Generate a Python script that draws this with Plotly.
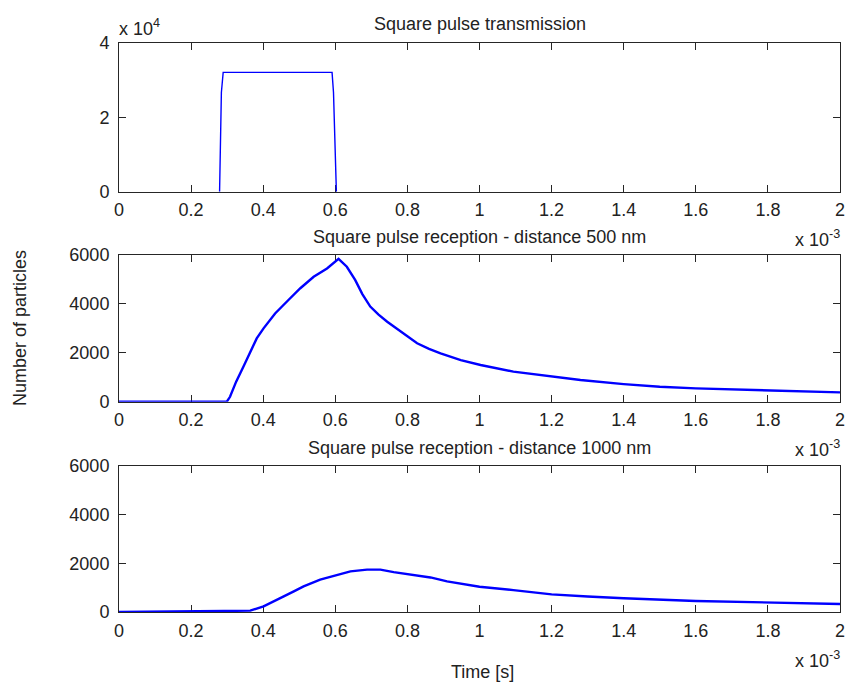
import plotly.graph_objects as go

# ---------------- data (time in units of 1e-3 s) ----------------
t_tx = [0.279, 0.280, 0.282, 0.284, 0.289, 0.591, 0.595, 0.598, 0.601, 0.603]
n_tx = [0, 5400, 16100, 26700, 32100, 32100, 26700, 16100, 5400, 0]

t_500 = [0, 0.299, 0.308, 0.325, 0.345, 0.365, 0.382, 0.401, 0.433, 0.47, 0.503, 0.54,
         0.577, 0.609, 0.620, 0.632, 0.655, 0.675, 0.697, 0.72, 0.744, 0.79, 0.827, 0.86,
         0.892, 0.948, 1.003, 1.094, 1.2, 1.28, 1.4, 1.5, 1.6, 1.74, 1.8, 1.93, 2.0]
n_500 = [0, 0, 200, 820, 1430, 2050, 2590, 3000, 3610, 4160, 4640, 5110,
         5450, 5840, 5700, 5520, 4980, 4400, 3890, 3560, 3270, 2800, 2390, 2160,
         1980, 1700, 1500, 1230, 1020, 885, 720, 613, 545, 477, 450, 410, 380]

t_1000 = [0, 0.313, 0.364, 0.401, 0.43, 0.457, 0.485, 0.512, 0.558, 0.605, 0.642, 0.688,
          0.725, 0.762, 0.808, 0.864, 0.91, 0.966, 1.0, 1.094, 1.2, 1.3, 1.4, 1.6, 1.8, 2.0]
n_1000 = [0, 25, 55, 230, 430, 640, 850, 1050, 1330, 1530, 1670, 1740,
          1740, 1640, 1530, 1420, 1260, 1120, 1040, 900, 726, 640, 562, 452, 397, 330]

x_ticks = [0, 0.2, 0.4, 0.6, 0.8, 1, 1.2, 1.4, 1.6, 1.8, 2]
x_tick_text = ["0", "0.2", "0.4", "0.6", "0.8", "1", "1.2", "1.4", "1.6", "1.8", "2"]
y1_ticks = [0, 20000, 40000]
y1_tick_text = ["0", "2", "4"]
y_ticks = [0, 2000, 4000, 6000]
y_tick_text = ["0", "2000", "4000", "6000"]

titles = ["Square pulse transmission",
          "Square pulse reception - distance 500 nm",
          "Square pulse reception - distance 1000 nm"]

SCALE = 1e-3
W, H = 848, 685
FONT = "Liberation Sans, Arial, Helvetica, sans-serif"
TXT = "#222222"
BLUE = "#0000FF"

# pixel layout of the three axes
x_left, x_right = 119, 840
panels = [(43, 191.7), (255, 401.7), (466, 612)]


def py(p):
    return 1 - p / H


fig = go.Figure()
series = [(t_tx, n_tx, 1.4), (t_500, n_500, 2.4), (t_1000, n_1000, 2.4)]
for i, (t, n, w) in enumerate(series):
    sfx = "" if i == 0 else str(i + 1)
    fig.add_trace(go.Scatter(
        x=[v * SCALE for v in t], y=n, mode="lines",
        line=dict(color=BLUE, width=w), cliponaxis=False, showlegend=False,
        xaxis="x" + sfx, yaxis="y" + sfx, hoverinfo="skip"))

layout = dict(
    width=W, height=H, paper_bgcolor="white", plot_bgcolor="white",
    margin=dict(l=0, r=0, t=0, b=0, autoexpand=False), showlegend=False,
    font=dict(family=FONT, size=18, color=TXT),
)
for i, (top, bot) in enumerate(panels):
    sfx = "" if i == 0 else str(i + 1)
    common = dict(showline=True, linecolor="#262626", linewidth=1, mirror="ticks",
                  ticks="inside", ticklen=7, tickwidth=1, tickcolor="#262626",
                  showgrid=False, zeroline=False, layer="below traces", automargin=False,
                  ticklabeloverflow="allow",
                  tickfont=dict(family=FONT, size=18, color=TXT))
    layout["xaxis" + sfx] = dict(
        domain=[x_left / W, x_right / W], anchor="y" + sfx,
        range=[0, 2 * SCALE], tickvals=[v * SCALE for v in x_ticks],
        ticktext=x_tick_text, ticklabelstandoff=2, **common)
    if i == 0:
        yt, ytt, yr = y1_ticks, y1_tick_text, [0, 40000]
    else:
        yt, ytt, yr = y_ticks, y_tick_text, [0, 6000]
    layout["yaxis" + sfx] = dict(
        domain=[py(bot), py(top)], anchor="x" + sfx, range=yr,
        tickvals=yt, ticktext=ytt, ticklabelstandoff=5, **common)

fig.update_layout(**layout)

ann = []
title_y = [24, 237, 448]
for txt, yy in zip(titles, title_y):
    ann.append(dict(text=txt, x=(x_left + x_right) / 2 / W, y=py(yy), xref="paper", yref="paper",
                    xanchor="center", yanchor="middle", showarrow=False,
                    font=dict(family=FONT, size=18, color=TXT)))
# exponent labels
ann.append(dict(text="x 10<sup>4</sup>", x=117 / W, y=py(27), xref="paper", yref="paper",
                xanchor="left", yanchor="middle", showarrow=False,
                font=dict(family=FONT, size=18, color=TXT)))
for (top, bot) in panels:
    ann.append(dict(text="x 10<sup>-3</sup>", x=842 / W, y=py(bot + 47), xref="paper", yref="paper",
                    xanchor="right", yanchor="middle", showarrow=False,
                    font=dict(family=FONT, size=18, color=TXT)))
ann.append(dict(text="Time [s]", x=482 / W, y=py(672), xref="paper", yref="paper",
                xanchor="center", yanchor="middle", showarrow=False,
                font=dict(family=FONT, size=18, color=TXT)))
ann.append(dict(text="Number of particles", x=20 / W, y=py(328), xref="paper", yref="paper",
                xanchor="center", yanchor="middle", textangle=-90, showarrow=False,
                font=dict(family=FONT, size=18, color=TXT)))
fig.update_layout(annotations=ann)

fig.write_html("out.html", config={"displayModeBar": False},
               post_script="document.body.style.margin='0px';document.body.style.overflow='hidden';")
